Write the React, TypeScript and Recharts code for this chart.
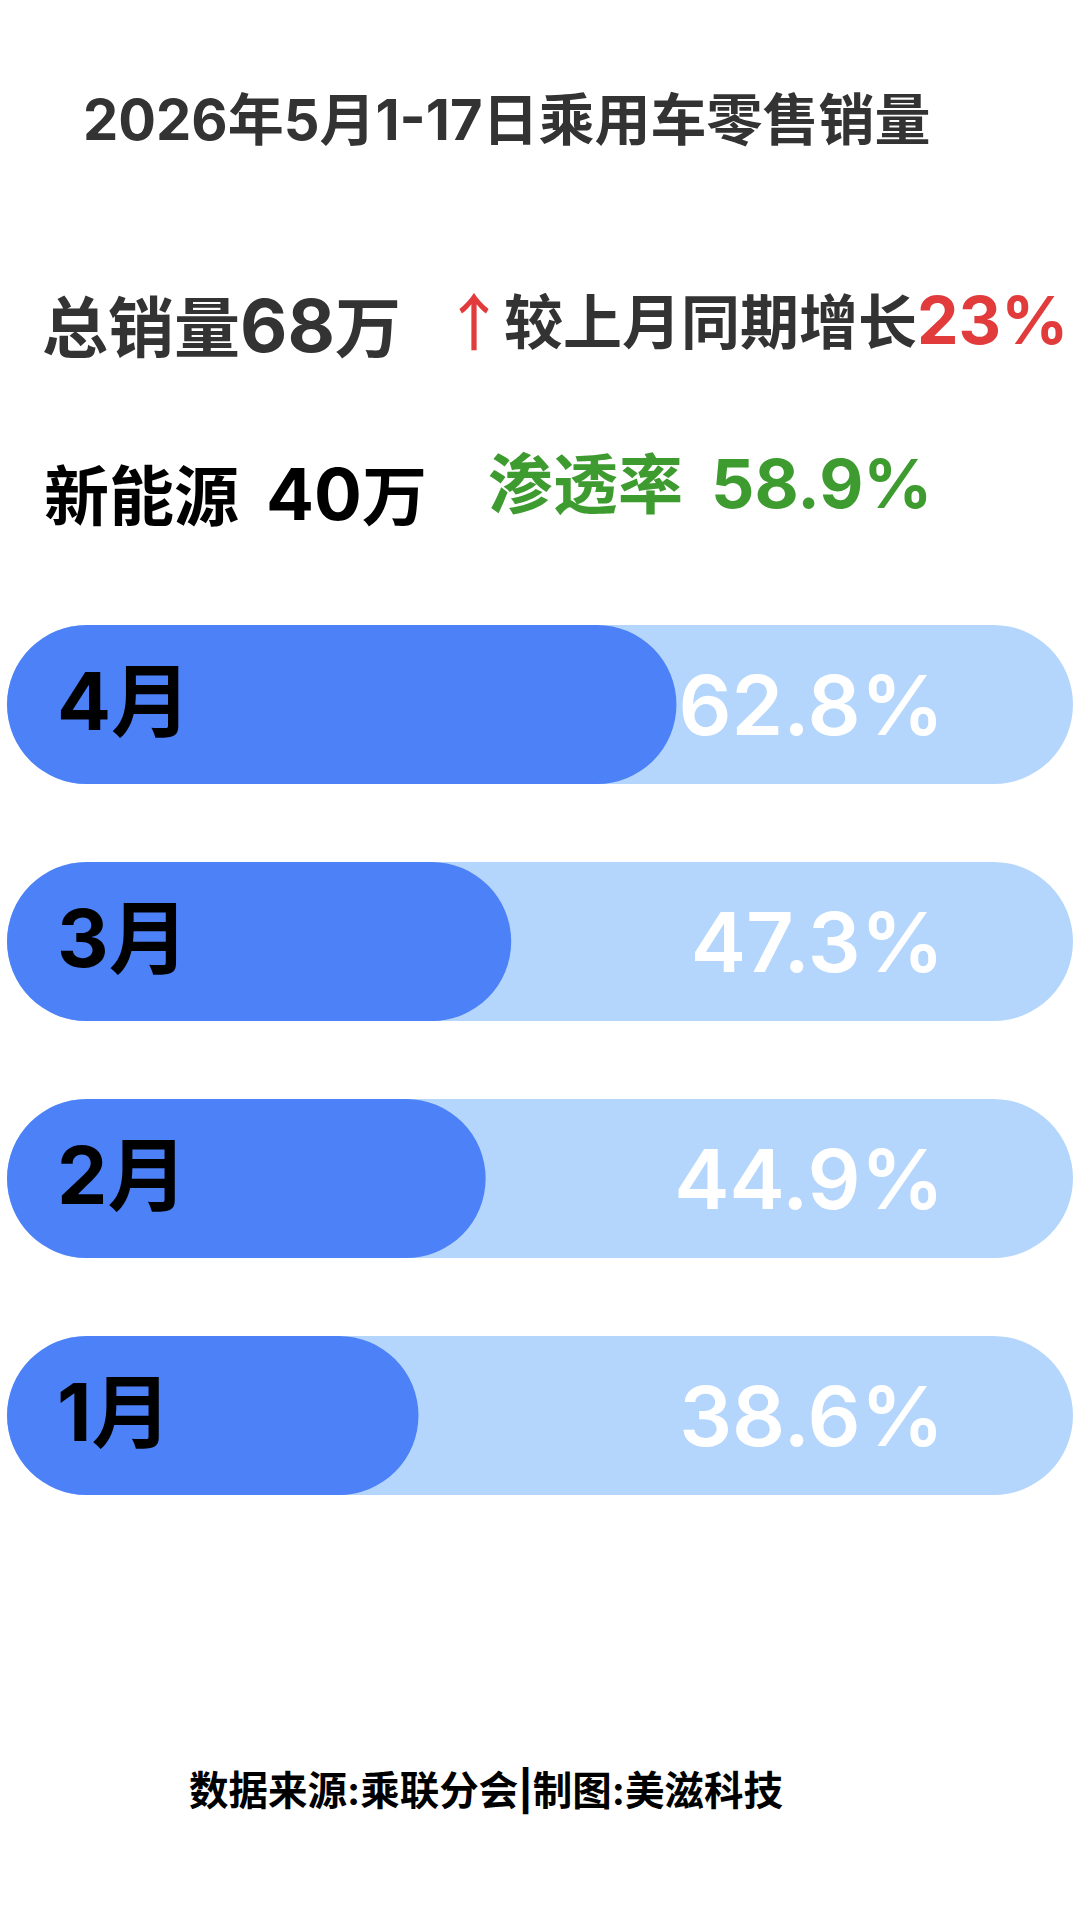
import React from 'react';
import { BarChart, Bar, XAxis, YAxis, LabelList } from 'recharts';

// ---- data ----
const months = ['4月', '3月', '2月', '1月'];
const rates = [62.8, 47.3, 44.9, 38.6];
const TRACK_MAX = 100;

const titleText = '2026年5月1-17日乘用车零售销量';
const totalLabel = '总销量';
const totalValue = '68';
const unitWan = '万';
const growthLabel = '较上月同期增长';
const growthValue = '23%';
const nevLabel = '新能源 ';
const nevValue = '40';
const penetrationLabel = '渗透率 ';
const penetrationValue = '58.9%';
const footerText = '数据来源:乘联分会|制图:美滋科技';

const data = months.map((m, i) => ({ month: m, rate: rates[i], track: TRACK_MAX }));

const FONT = 'Inter, "Noto Sans CJK SC", sans-serif';
const FILL = '#4d81f7';
const TRACK = '#b4d6fc';
const RED = '#e13b3b';
const GREEN = '#3d9b2f';

function MonthLabel(props: any) {
  const { x, y, height, value } = props;
  const fs = 80;
  return (
    <text
      x={Number(x) + 50}
      y={Number(y) + Number(height) / 2 + fs * 0.36 - 3}
      fontSize={fs}
      fontWeight={700}
      fontFamily={FONT}
      fill="#000"
    >
      {value}
    </text>
  );
}

function PctLabel(props: any) {
  const { x, y, width, height, value } = props;
  const fs = 83;
  return (
    <text
      x={Number(x) + Number(width) - 129}
      y={Number(y) + Number(height) / 2 + fs * 0.36 + 1}
      textAnchor="end"
      fontSize={fs}
      fontWeight={600}
      fontFamily={FONT}
      fill="#ffffff"
    >
      {`${value}%`}
    </text>
  );
}

export default function App() {
  return (
    <div
      style={{
        position: 'absolute',
        left: 0,
        top: 0,
        width: 1080,
        height: 1920,
        background: '#ffffff',
        overflow: 'hidden',
      }}
    >
      <svg
        width={1080}
        height={1920}
        style={{ position: 'absolute', left: 0, top: 0 }}
        fontFamily={FONT}
      >
        <text x={83} y={140} fontSize={56} fontWeight={700} fill="#333333">
          {titleText}
        </text>

        <text x={42} y={352} fontWeight={700} fill="#333333">
          <tspan fontSize={66}>{totalLabel}</tspan>
          <tspan fontSize={73}>{totalValue}</tspan>
          <tspan fontSize={66}>{unitWan}</tspan>
        </text>

        <text
          x={474}
          y={346}
          textAnchor="middle"
          fontSize={62}
          fontWeight={500}
          fill={RED}
          fontFamily='"Noto Sans CJK SC", sans-serif'
        >
          ↑
        </text>

        <text x={504} y={344} fontWeight={700}>
          <tspan fontSize={59} fill="#333333">{growthLabel}</tspan>
          <tspan fontSize={66} fill={RED}>{growthValue}</tspan>
        </text>

        <text x={44} y={520} fontWeight={700} fill="#000000">
          <tspan fontSize={65}>{nevLabel}</tspan>
          <tspan x={266} fontSize={71}>{nevValue}</tspan>
          <tspan fontSize={65}>{unitWan}</tspan>
        </text>

        <text x={488} y={508} fontWeight={700} fill={GREEN}>
          <tspan fontSize={65}>{penetrationLabel}</tspan>
          <tspan x={711} fontSize={68}>{penetrationValue}</tspan>
        </text>

        <text x={189} y={1805} fontSize={39.5} fontWeight={700} fill="#000000">
          {footerText}
        </text>
      </svg>

      <div style={{ position: 'absolute', left: 7, top: 586, width: 1066, height: 948 }}>
        <BarChart
          width={1066}
          height={948}
          data={data}
          layout="vertical"
          margin={{ top: 0, right: 0, bottom: 0, left: 0 }}
          barSize={159}
          barGap={-159}
        >
          <XAxis type="number" domain={[0, TRACK_MAX]} hide />
          <YAxis type="category" dataKey="month" hide />
          <Bar dataKey="track" fill={TRACK} radius={80} isAnimationActive={false}>
            <LabelList dataKey="rate" content={PctLabel} />
          </Bar>
          <Bar dataKey="rate" fill={FILL} radius={80} isAnimationActive={false}>
            <LabelList dataKey="month" content={MonthLabel} />
          </Bar>
        </BarChart>
      </div>
    </div>
  );
}
